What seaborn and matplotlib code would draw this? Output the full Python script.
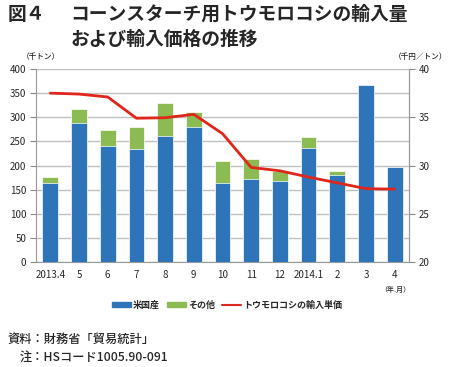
import numpy as np
import pandas as pd
import matplotlib.pyplot as plt
import seaborn as sns
from matplotlib.patches import Patch
from matplotlib.lines import Line2D

# data
months = ['2013.4', '5', '6', '7', '8', '9', '10', '11', '12', '2014.1', '2', '3', '4']
us_vol = [163, 288, 241, 234, 262, 280, 163, 172, 168, 237, 181, 367, 196]
other_vol = [13, 30, 32, 46, 67, 30, 47, 42, 21, 23, 8, 0, 0]
unit_price = [37.5, 37.4, 37.1, 34.9, 34.95, 35.3, 33.3, 29.8, 29.45, 28.8, 28.2, 27.6, 27.55]

blue = '#2e74b8'
green = '#8cbb54'
red = '#e0261a'
grid = '#c0c0c0'

sns.set_style('white')
plt.rcParams['font.family'] = ['Noto Sans CJK JP', 'DejaVu Sans']

df = pd.DataFrame({'month': months, 'us': us_vol, 'other': other_vol, 'price': unit_price})
df['total'] = df['us'] + df['other']
df['pos'] = np.arange(len(df))

fig = plt.figure(figsize=(4.5, 3.67), dpi=100)
ax = fig.add_axes([36 / 450, 1 - 262 / 367, 373 / 450, 193 / 367])

# stacked bars: total first (green), then US on top of it (blue)
sns.barplot(data=df, x='month', y='total', order=months, color=green, width=0.55,
            saturation=1, edgecolor='white', linewidth=0.5, ax=ax, zorder=2)
sns.barplot(data=df, x='month', y='us', order=months, color=blue, width=0.55,
            saturation=1, edgecolor='white', linewidth=0.5, ax=ax, zorder=3)

ax.set_ylim(0, 400)
ax.set_xlim(-0.5, len(months) - 0.5)
ax.set_yticks(np.arange(0, 401, 50))
ax.yaxis.grid(True, color=grid, linewidth=1)
ax.set_axisbelow(True)
ax.set_xlabel('')
ax.set_ylabel('')
ax.set_xticks(np.arange(len(months)))
ax.set_xticklabels(months, fontsize=7)
ax.tick_params(axis='x', which='major', length=0, pad=6)
ax.set_xticks(np.arange(-0.5, len(months), 1), minor=True)
ax.tick_params(axis='x', which='minor', length=4, color='#888888', direction='out')
ax.tick_params(axis='y', labelsize=7, length=4, color='#888888', direction='out', pad=3, left=True)
ax.spines['top'].set_visible(False)
for s in ['left', 'right', 'bottom']:
    ax.spines[s].set_color('#999999')
    ax.spines[s].set_linewidth(0.8)

# price line on the right axis
ax2 = ax.twinx()
sns.lineplot(data=df, x='pos', y='price', color=red, linewidth=2, ax=ax2, zorder=4)
ax2.set_ylim(20, 40)
ax2.set_yticks(np.arange(20, 41, 5))
ax2.set_ylabel('')
ax2.tick_params(axis='y', labelsize=7, length=4, color='#888888', direction='out', pad=3, right=True)
for s in ['top', 'left', 'bottom']:
    ax2.spines[s].set_visible(False)
ax2.spines['right'].set_color('#999999')
ax2.spines['right'].set_linewidth(0.8)
ax2.set_xlim(-0.5, len(months) - 0.5)

# unit labels
fig.text(22 / 450, 1 - 57 / 367, '（千トン）', fontsize=5.5, va='center', ha='left', fontweight='medium')
fig.text(447 / 450, 1 - 57 / 367, '（千円／トン）', fontsize=5.5, va='center', ha='right', fontweight='medium')
fig.text(395 / 450, 1 - 290 / 367, '（年.月）', fontsize=5, va='center', ha='center', fontweight='medium')

# legend
handles = [Patch(color=blue), Patch(color=green), Line2D([0], [0], color=red, linewidth=1.5)]
labels = ['米国産', 'その他', 'トウモロコシの輸入単価']
fig.legend(handles, labels, loc='center', bbox_to_anchor=(227 / 450, 1 - 305 / 367), ncol=3,
           frameon=False, prop={'size': 6.5, 'weight': 'bold'}, handlelength=2.1,
           handleheight=0.6, handletextpad=0.2, columnspacing=0.8)

# title
tkw = dict(fontsize=13.5, va='center', ha='left', fontweight='bold')
fig.text(8 / 450, 1 - 14 / 367, '図４', **tkw)
fig.text(70 / 450, 1 - 14 / 367, 'コーンスターチ用トウモロコシの輸入量', **tkw)
fig.text(70 / 450, 1 - 39 / 367, 'および輸入価格の推移', **tkw)

# footnotes
fig.text(8 / 450, 1 - 339 / 367, '資料：財務省「貿易統計」', fontsize=8.8, va='center', ha='left', fontweight='medium')
fig.text(20 / 450, 1 - 357 / 367, '注：HSコード1005.90-091', fontsize=8.8, va='center', ha='left', fontweight='medium')

fig.savefig('out.png', dpi=100)
